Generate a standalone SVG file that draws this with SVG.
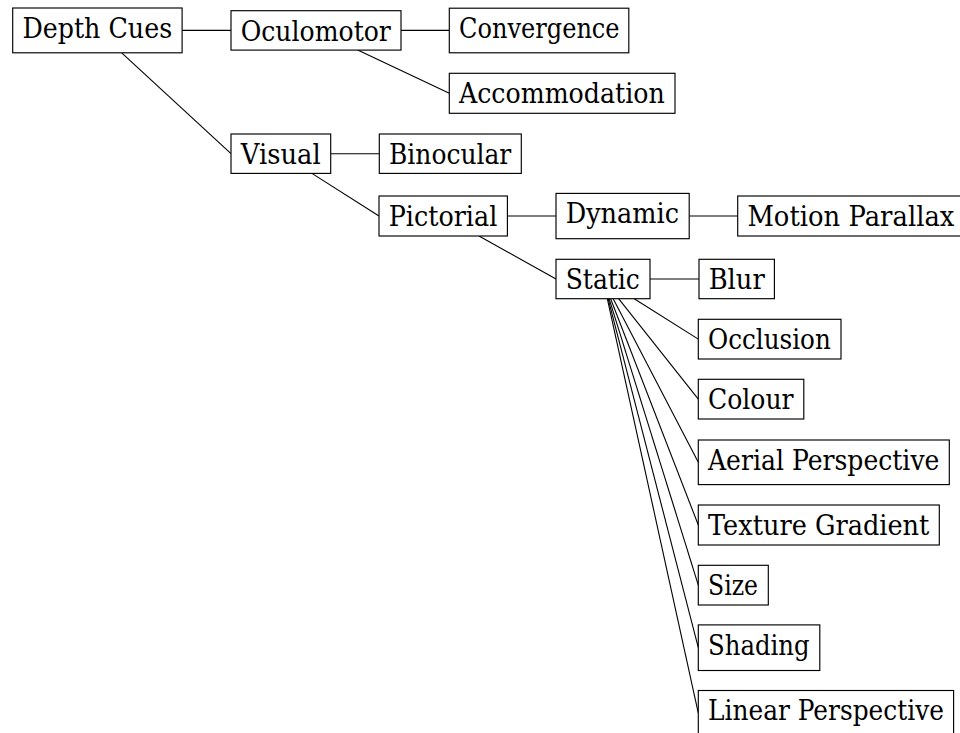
<svg xmlns="http://www.w3.org/2000/svg" width="960" height="733" viewBox="0 0 960 733">
  <style>
    .box { fill: #ffffff; stroke: #000000; stroke-width: 1.15; }
    .lbl { font-family: "DejaVu Serif", serif; font-size: 27px; fill: #000000; }
    .edge { stroke: #000000; stroke-width: 1.1; fill: none; }
  </style>
  <rect width="960" height="733" fill="#ffffff"/>

  <!-- connectors: parent border toward child west side -->
  <g id="connectors">
    <line class="edge" x1="182.1" y1="30.4" x2="231" y2="30.4"/>
    <line class="edge" x1="121.7" y1="52.8" x2="231" y2="153.7"/>
    <line class="edge" x1="401" y1="30.4" x2="449.3" y2="30.4"/>
    <line class="edge" x1="357.7" y1="50.1" x2="449.3" y2="93.3"/>
    <line class="edge" x1="330.7" y1="153.7" x2="379.3" y2="153.7"/>
    <line class="edge" x1="311.9" y1="173.4" x2="379" y2="216"/>
    <line class="edge" x1="507.4" y1="216" x2="556" y2="216"/>
    <line class="edge" x1="479" y1="236" x2="556" y2="279"/>
    <line class="edge" x1="689.2" y1="216" x2="737.7" y2="216"/>
    <line class="edge" x1="650" y1="279" x2="699" y2="279"/>
    <line class="edge" x1="634.2" y1="298.7" x2="698.3" y2="339.15"/>
    <line class="edge" x1="618.6" y1="298.7" x2="698.3" y2="399.15"/>
    <line class="edge" x1="613.2" y1="298.7" x2="698.3" y2="462.3"/>
    <line class="edge" x1="610.6" y1="298.7" x2="698.3" y2="525"/>
    <line class="edge" x1="609.1" y1="298.7" x2="698.3" y2="585.15"/>
    <line class="edge" x1="608.1" y1="298.7" x2="698.3" y2="647.7"/>
    <line class="edge" x1="607.3" y1="298.7" x2="698.3" y2="713.15"/>
  </g>

  <g id="depth-cues">
    <rect class="box" x="12.7" y="8" width="169.4" height="44.8"/>
    <text class="lbl" x="22.4" y="37.8" textLength="149.8" lengthAdjust="spacingAndGlyphs">Depth Cues</text>
  </g>
  <g id="oculomotor">
    <rect class="box" x="231" y="10.7" width="170" height="39.4"/>
    <text class="lbl" x="240.7" y="40.5" textLength="150.2" lengthAdjust="spacingAndGlyphs">Oculomotor</text>
  </g>
  <g id="convergence">
    <rect class="box" x="449.3" y="8.2" width="179.5" height="44.6"/>
    <text class="lbl" x="459" y="38" textLength="160.6" lengthAdjust="spacingAndGlyphs">Convergence</text>
  </g>
  <g id="accommodation">
    <rect class="box" x="449.3" y="73.3" width="225.7" height="40"/>
    <text class="lbl" x="459" y="103.1" textLength="205.7" lengthAdjust="spacingAndGlyphs">Accommodation</text>
  </g>
  <g id="visual">
    <rect class="box" x="231" y="134" width="99.7" height="39.4"/>
    <text class="lbl" x="240.7" y="163.8" textLength="80" lengthAdjust="spacingAndGlyphs">Visual</text>
  </g>
  <g id="binocular">
    <rect class="box" x="379.3" y="134" width="142" height="39.4"/>
    <text class="lbl" x="389" y="163.8" textLength="122.3" lengthAdjust="spacingAndGlyphs">Binocular</text>
  </g>
  <g id="pictorial">
    <rect class="box" x="379" y="196" width="128.4" height="40"/>
    <text class="lbl" x="388.7" y="225.8" textLength="108.6" lengthAdjust="spacingAndGlyphs">Pictorial</text>
  </g>
  <g id="dynamic">
    <rect class="box" x="556" y="193.4" width="133.2" height="45.3"/>
    <text class="lbl" x="565.7" y="223.2" textLength="113.3" lengthAdjust="spacingAndGlyphs">Dynamic</text>
  </g>
  <g id="motion-parallax">
    <rect class="box" x="737.7" y="196" width="226.5" height="40"/>
    <text class="lbl" x="747.4" y="225.8" textLength="207" lengthAdjust="spacingAndGlyphs">Motion Parallax</text>
  </g>
  <g id="static">
    <rect class="box" x="556" y="259.3" width="94" height="39.4"/>
    <text class="lbl" x="565.7" y="289.1" textLength="74.2" lengthAdjust="spacingAndGlyphs">Static</text>
  </g>
  <g id="blur">
    <rect class="box" x="699" y="259.3" width="75.4" height="39.4"/>
    <text class="lbl" x="708.7" y="289.1" textLength="56.1" lengthAdjust="spacingAndGlyphs">Blur</text>
  </g>
  <g id="occlusion">
    <rect class="box" x="698.3" y="319.3" width="142.7" height="39.7"/>
    <text class="lbl" x="708" y="349.1" textLength="122.8" lengthAdjust="spacingAndGlyphs">Occlusion</text>
  </g>
  <g id="colour">
    <rect class="box" x="698.3" y="379.3" width="105.5" height="39.7"/>
    <text class="lbl" x="708" y="409.1" textLength="85.6" lengthAdjust="spacingAndGlyphs">Colour</text>
  </g>
  <g id="aerial-perspective">
    <rect class="box" x="698.3" y="440" width="251" height="44.6"/>
    <text class="lbl" x="708" y="469.8" textLength="231.4" lengthAdjust="spacingAndGlyphs">Aerial Perspective</text>
  </g>
  <g id="texture-gradient">
    <rect class="box" x="698.3" y="505" width="241" height="40"/>
    <text class="lbl" x="708" y="534.8" textLength="221.4" lengthAdjust="spacingAndGlyphs">Texture Gradient</text>
  </g>
  <g id="size">
    <rect class="box" x="698.3" y="565.3" width="70" height="39.7"/>
    <text class="lbl" x="708" y="595.1" textLength="50" lengthAdjust="spacingAndGlyphs">Size</text>
  </g>
  <g id="shading">
    <rect class="box" x="698.3" y="624.9" width="121.5" height="45.6"/>
    <text class="lbl" x="708" y="654.7" textLength="101.6" lengthAdjust="spacingAndGlyphs">Shading</text>
  </g>
  <g id="linear-perspective">
    <rect class="box" x="698.3" y="690.5" width="255.3" height="45.3"/>
    <text class="lbl" x="708" y="720.3" textLength="235.9" lengthAdjust="spacingAndGlyphs">Linear Perspective</text>
  </g>
</svg>
